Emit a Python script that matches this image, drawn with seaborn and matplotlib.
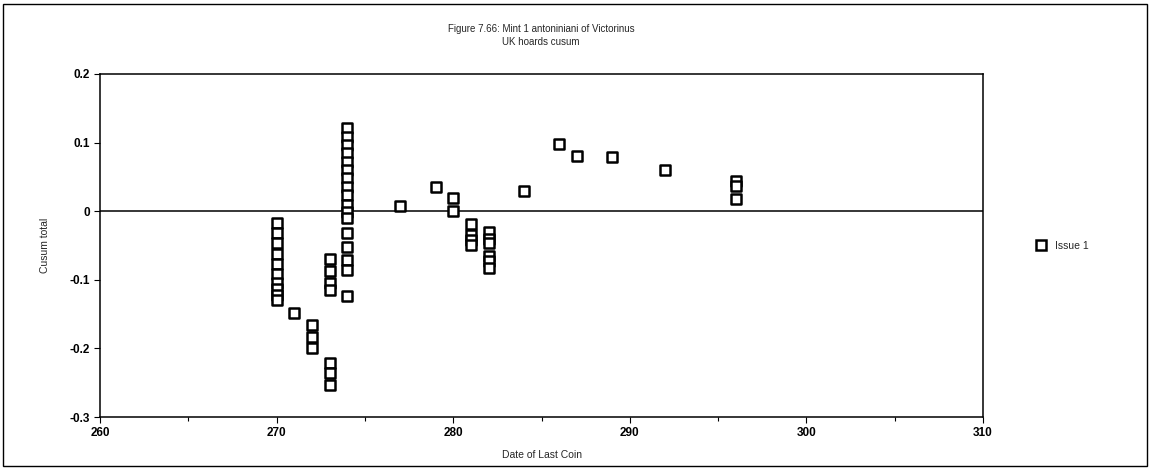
import matplotlib
matplotlib.use("Agg")
import matplotlib.pyplot as plt
import seaborn as sns
import pandas as pd
from matplotlib.patches import Rectangle
from matplotlib.lines import Line2D

# ---- data ----
dates = (
    [270] * 10 + [271] + [272] * 3 + [273] * 7 + [274] * 17 +
    [277, 279, 280, 280] + [281] * 4 + [282] * 6 +
    [284, 286, 287, 289, 292] + [296] * 3
)
cusum = (
    [-0.017, -0.032, -0.047, -0.062, -0.077, -0.091, -0.104, -0.113, -0.122, -0.129]
    + [-0.149]
    + [-0.166, -0.183, -0.200]
    + [-0.070, -0.087, -0.105, -0.115, -0.221, -0.236, -0.253]
    + [0.121, 0.108, 0.097, 0.085, 0.072, 0.060, 0.048, 0.036, 0.024, 0.009,
       -0.001, -0.010, -0.032, -0.052, -0.071, -0.086, -0.123]
    + [0.007, 0.036, 0.019, 0.001]
    + [-0.018, -0.035, -0.042, -0.050]
    + [-0.030, -0.040, -0.047, -0.065, -0.072, -0.083]
    + [0.030, 0.098, 0.081, 0.079, 0.060]
    + [0.044, 0.037, 0.018]
)
series = ["Issue 1"] * len(dates)

title_lines = ["Figure 7.66: Mint 1 antoniniani of Victorinus", "UK hoards cusum"]
x_ticks = [260, 270, 280, 290, 300, 310]
y_ticks = [-0.3, -0.2, -0.1, 0, 0.1, 0.2]
y_tick_labels = ["-0.3", "-0.2", "-0.1", "0", "0.1", "0.2"]

df = pd.DataFrame({"Date of Last Coin": dates, "Cusum total": cusum, "Series": series})

sns.set_style("white")
plt.rcParams["font.family"] = ["Liberation Sans", "DejaVu Sans"]

fig = plt.figure(figsize=(11.51, 4.69), dpi=100)
ax = fig.add_axes([100 / 1151, 1 - 417 / 469, (983 - 100) / 1151, (417 - 74) / 469])

sns.scatterplot(
    data=df, x="Date of Last Coin", y="Cusum total", ax=ax,
    marker="s", s=58, color="white", edgecolor="black", linewidth=1.8,
    legend=False, zorder=3,
)

ax.axhline(0, color="black", lw=1.1, zorder=2)
ax.set_xlim(260, 310)
ax.set_ylim(-0.3, 0.2)
ax.set_xticks(x_ticks)
ax.set_xticks(range(260, 311, 5), minor=True)
ax.set_yticks(y_ticks)
ax.set_yticklabels(y_tick_labels)
ax.tick_params(axis="both", which="both", direction="out", length=4, width=0.8,
               labelsize=8.5, colors="black", bottom=True, left=True, pad=3)
ax.tick_params(axis="x", which="minor", length=3)
for lab in ax.get_xticklabels() + ax.get_yticklabels():
    lab.set_fontweight("bold")

for sp in ax.spines.values():
    sp.set_color("black")
    sp.set_linewidth(1.1)

ax.set_xlabel("Date of Last Coin", fontsize=7.5, labelpad=8)
ax.set_ylabel("Cusum total", fontsize=7.5, labelpad=14)

fig.text(541 / 1151, 1 - 29 / 469, title_lines[0], ha="center", va="center", fontsize=7)
fig.text(541 / 1151, 1 - 42 / 469, title_lines[1], ha="center", va="center", fontsize=7)

handle = Line2D([], [], marker="s", linestyle="none", markersize=7.5,
                markerfacecolor="white", markeredgecolor="black", markeredgewidth=1.8)
fig.legend([handle], ["Issue 1"], loc="center left",
           bbox_to_anchor=(1026 / 1151, 1 - 246 / 469), frameon=False,
           fontsize=7.5, handletextpad=0.9, handlelength=1.0)

fig.add_artist(Rectangle((3 / 1151, 3 / 469), 1 - 7 / 1151, 1 - 7 / 469,
                         transform=fig.transFigure, fill=False,
                         edgecolor="black", linewidth=1.0))

fig.savefig("out.png", dpi=100)
